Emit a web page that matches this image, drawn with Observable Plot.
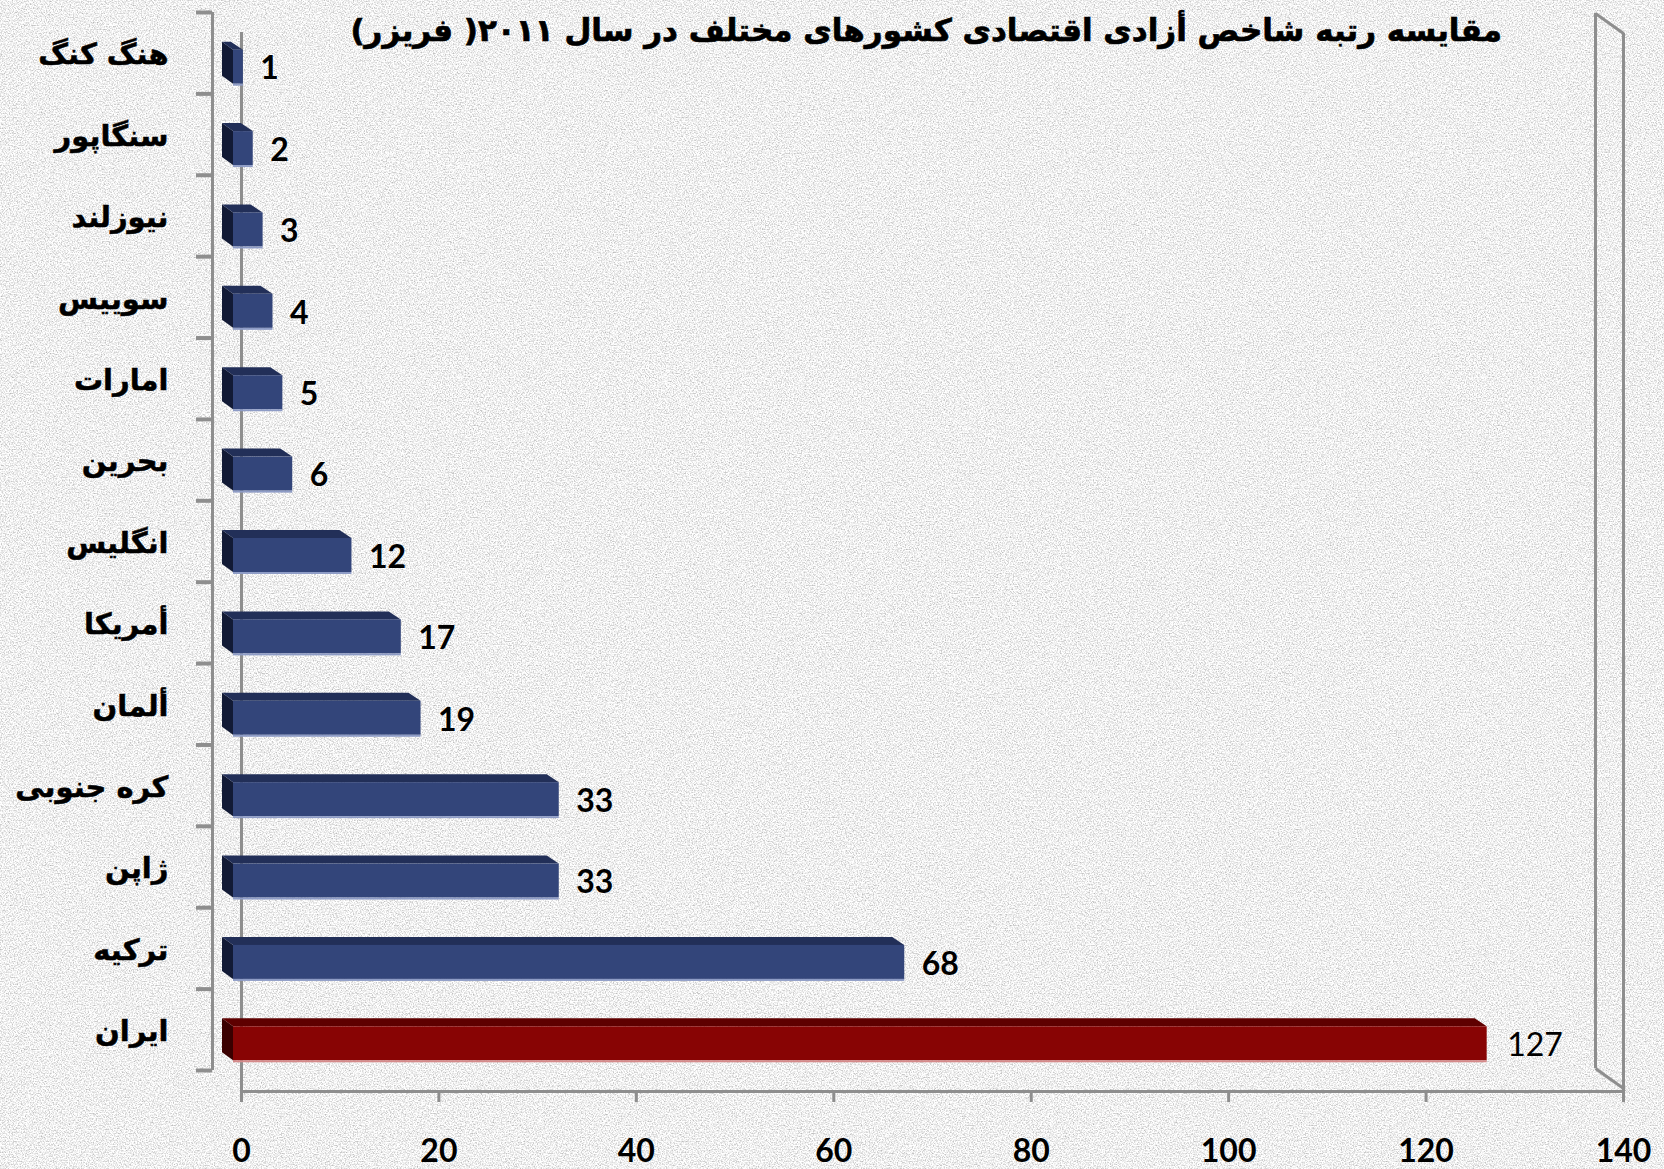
<!DOCTYPE html>
<html>
<head>
<meta charset="utf-8">
<script src="https://cdn.jsdelivr.net/npm/d3@7"></script>
<script src="https://cdn.jsdelivr.net/npm/@observablehq/plot@0.6"></script>
<style>
  html, body { margin: 0; padding: 0; background: #e3e3e3; }
  #wrap { position: relative; width: 1664px; height: 1169px; overflow: hidden; }
  #bg { position: absolute; left: 0; top: 0; }
  #chart { position: absolute; left: 0; top: 0; }
  #title {
    position: absolute; top: 12px; right: 162px; margin: 0;
    font-family: "DejaVu Sans", sans-serif; font-weight: bold; font-size: 31px; line-height: 36px;
    color: #000; direction: rtl; white-space: nowrap; letter-spacing: -0.3px;
    -webkit-text-stroke: 0.7px #000;
  }
  .cat text { stroke: #000; stroke-width: 0.5px; }
</style>
</head>
<body>
<div id="wrap">
  <svg id="bg" width="1664" height="1169">
    <filter id="noise" x="0" y="0" width="100%" height="100%" color-interpolation-filters="sRGB">
      <feTurbulence type="fractalNoise" baseFrequency="0.75" numOctaves="2" seed="7"/>
      <feColorMatrix type="matrix" values="0.6 0 0 0 0.64  0.6 0 0 0 0.64  0.6 0 0 0 0.64  0 0 0 0 1"/>
    </filter>
    <rect width="1664" height="1169" filter="url(#noise)"/>
  </svg>
  <div id="chart"></div>
  <h1 id="title">مقایسه رتبه شاخص أزادی اقتصادی کشورهای مختلف در سال ۲۰۱۱( فریزر)</h1>
</div>
<script>
// ---- data ----
const countries = ["هنگ کنگ", "سنگاپور", "نیوزلند", "سوییس", "امارات", "بحرین", "انگلیس", "أمریکا", "ألمان", "کره جنوبی", "ژاپن", "ترکیه", "ایران"];
const ranks = [1, 2, 3, 4, 5, 6, 12, 17, 19, 33, 33, 68, 127];
const highlighted = ["ایران"];
const xTicks = [0, 20, 40, 60, 80, 100, 120, 140];

// ---- layout ----
const W = 1664, H = 1169;
const mL = 241, mR = 41, mT = 12, mB = 99;
const xMax = 140, nRows = countries.length;
const kx = (W - mL - mR) / xMax;     // px per x unit
const ky = (H - mT - mB) / nRows;    // px per row
const px = (p) => p / kx;            // px -> x data units
const py = (p) => p / ky;            // px -> row units

const palette = {
  blue: {front: "#33457a", top: "#222f58", side: "#121a35", edge: "#8e9cc6"},
  red:  {front: "#880404", top: "#5e0000", side: "#3a0000", edge: "#d58a8a"}
};
const gridColor = "#8e8e8e";

const rows = countries.map((name, i) => ({
  name, rank: ranks[i], i,
  pal: highlighted.includes(name) ? palette.red : palette.blue,
  hi: highlighted.includes(name)
}));

// 3D bar faces (depth offsets in px converted to data units)
const BAR_DX = -8;
const topPts = rows.flatMap(d => [
  {z: d.i, y: d.i + 0.5 + py(-3),  x1: 0,        x2: d.rank,            fill: d.pal.top},
  {z: d.i, y: d.i + 0.5 + py(-11), x1: px(-11),  x2: d.rank + px(-12),  fill: d.pal.top}
]);
const sidePts = rows.flatMap(d => [
  {z: d.i, x: 0,       y1: d.i + 0.5 + py(-3),  y2: d.i + 0.5 + py(31), fill: d.pal.side},
  {z: d.i, x: px(-11), y1: d.i + 0.5 + py(-11), y2: d.i + 0.5 + py(23), fill: d.pal.side}
]);

const rowEdges = d3.range(nRows + 1);

const plot = Plot.plot({
  width: W, height: H,
  marginLeft: mL, marginRight: mR, marginTop: mT, marginBottom: mB,
  style: {background: "transparent", overflow: "visible"},
  x: {domain: [0, xMax], axis: null},
  y: {domain: [0, nRows], reverse: true, axis: null},
  marks: [
    // back-left wall and its tick marks
    Plot.ruleX([0], {y1: 0, y2: nRows, dx: -29, stroke: gridColor, strokeWidth: 3}),
    Plot.ruleY(rowEdges, {y: d => d, x1: px(-45), x2: px(-29), stroke: gridColor, strokeWidth: 4}),
    // right walls
    Plot.ruleX([xMax], {y1: py(1), y2: nRows + py(-2), dx: -28, stroke: gridColor, strokeWidth: 3}),
    Plot.ruleX([xMax], {y1: py(21), y2: nRows + py(21), stroke: gridColor, strokeWidth: 3}),
    Plot.link([0, nRows], {x1: xMax + px(-28), y1: d => d + py(d === 0 ? 1 : -2), x2: xMax, y2: d => d + py(d === 0 ? 21 : 18), stroke: gridColor, strokeWidth: 3}),
    // front axis lines
    Plot.ruleX([0], {y1: py(20), y2: nRows + py(21), stroke: gridColor, strokeWidth: 3}),
    Plot.ruleY([nRows], {x1: 0, x2: xMax, dy: 21, stroke: gridColor, strokeWidth: 3}),
    Plot.ruleX(xTicks, {x: d => d, y1: nRows + py(21), y2: nRows + py(32), stroke: gridColor, strokeWidth: 3}),
    // bars: side, top, front, bottom edge
    Plot.areaY(sidePts, {x: "x", y1: "y1", y2: "y2", z: "z", fill: "fill", dx: BAR_DX}),
    Plot.areaX(topPts, {y: "y", x1: "x1", x2: "x2", z: "z", fill: "fill", dx: BAR_DX}),
    Plot.rect(rows, {x1: 0, x2: "rank", y1: d => d.i + 0.5 + py(-3), y2: d => d.i + 0.5 + py(31), fill: d => d.pal.front, dx: BAR_DX}),
    Plot.rect(rows, {x1: 0, x2: "rank", y1: d => d.i + 0.5 + py(31), y2: d => d.i + 0.5 + py(33), fill: d => d.pal.edge, dx: BAR_DX}),
    // value labels
    Plot.text(rows.filter(d => !d.hi), {x: "rank", y: d => d.i + 0.5, text: d => String(d.rank), dx: 9, dy: 16, textAnchor: "start",
      fontSize: 32, fontWeight: "bold", fontFamily: "Lato, 'Liberation Sans', sans-serif", fill: "#000"}),
    Plot.text(rows.filter(d => d.hi), {x: "rank", y: d => d.i + 0.5, text: d => String(d.rank), dx: 12, dy: 16, textAnchor: "start",
      fontSize: 32, fontWeight: "normal", fontFamily: "Lato, 'Liberation Sans', sans-serif", fill: "#000"}),
    // category labels
    Plot.text(rows, {x: 0, y: d => d.i + 0.5, text: "name", dx: -73, dy: 2, textAnchor: "end", className: "cat",
      fontSize: 29, fontWeight: "bold", fontFamily: "'DejaVu Sans', sans-serif", fill: "#000"}),
    // x tick labels
    Plot.text(xTicks, {x: d => d, y: nRows, text: d => String(d), dy: 81, fontSize: 32, fontWeight: "bold",
      fontFamily: "Lato, 'Liberation Sans', sans-serif", fill: "#000"})
  ]
});
document.getElementById("chart").appendChild(plot);
</script>
</body>
</html>
